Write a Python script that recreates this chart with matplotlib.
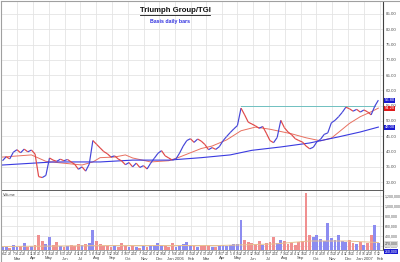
import numpy as np
import pandas as pd
import matplotlib
matplotlib.use("Agg")
import matplotlib.pyplot as plt
import matplotlib.dates as mdates
import matplotlib.transforms as mtrans
from matplotlib.collections import LineCollection
from matplotlib.lines import Line2D

plt.rcParams['font.family'] = ['Liberation Sans', 'DejaVu Sans']

# ---------------- data (weekly) ----------------
week_start = "2005-02-14"
n_weeks = 105
close = [37.0, 38.3, 37.6, 39.8, 40.6, 39.6, 40.8, 39.9, 40.5, 39.2,
         31.8, 31.5, 32.2, 37.9, 37.2, 36.8, 37.5, 37.0, 37.4, 36.6,
         35.8, 34.2, 35.0, 33.6, 35.9, 43.6, 42.4, 41.2, 40.0, 39.3,
         38.2, 38.6, 37.6, 36.9, 35.7, 36.4, 35.0, 36.2, 34.8, 35.4,
         34.3, 36.2, 37.8, 39.4, 40.3, 38.6, 37.9, 37.2, 37.6, 39.5,
         41.8, 43.6, 44.2, 43.0, 44.1, 43.4, 42.3, 40.6, 41.3, 40.7,
         41.6, 43.5, 44.9, 46.2, 47.4, 48.5, 54.2, 52.0, 49.6, 49.0,
         48.4, 47.6, 48.2, 46.0, 43.6, 42.9, 44.6, 50.2, 47.8, 46.4,
         45.5, 44.2, 43.6, 43.1, 41.8, 40.9, 41.4, 43.2, 44.0, 45.6,
         46.1, 49.4, 50.2, 51.4, 52.8, 54.5, 54.0, 53.2, 53.8, 52.9,
         53.6, 53.0, 52.0, 54.8, 56.8]
volume_k = [180, 200, 170, 230, 190, 210, 260, 180, 200, 220,
            420, 300, 250, 380, 230, 280, 200, 190, 210, 230,
            200, 250, 220, 240, 260, 520, 300, 240, 210, 200,
            180, 220, 190, 260, 200, 180, 210, 190, 170, 200,
            180, 210, 230, 260, 220, 200, 180, 260, 190, 210,
            240, 280, 230, 200, 190, 210, 230, 200, 180, 190,
            210, 220, 200, 230, 250, 240, 720, 320, 280, 260,
            240, 300, 220, 260, 280, 380, 260, 320, 300, 240,
            260, 230, 280, 300, 1260, 420, 380, 420, 340, 300,
            660, 360, 320, 420, 300, 280, 320, 260, 240, 280,
            220, 260, 420, 620, 260]

ma_fast_week = [0, 8, 12, 16, 22, 25, 27, 31, 34, 36, 41, 46, 49, 55, 58,
                62, 66, 70, 74, 80, 84, 88, 91, 93, 96, 99, 102, 104]
ma_fast_val = [38.2, 38.9, 36.8, 36.3, 35.6, 36.6, 38.0, 38.2, 38.9, 37.9,
               36.6, 37.0, 38.2, 41.0, 41.8, 43.8, 46.8, 48.0, 47.3, 45.8,
               44.5, 43.5, 44.4, 46.3, 49.2, 51.4, 53.0, 54.2]
ma_slow_week = [0, 14, 27, 36, 46, 55, 63, 69, 77, 85, 93, 99, 104]
ma_slow_val = [35.6, 36.6, 36.6, 37.2, 37.2, 38.0, 38.9, 40.4, 41.5, 42.8,
               44.8, 46.4, 48.0]
vol_ma_week = [0, 30, 60, 75, 85, 95, 104]
vol_ma_k = [190, 210, 210, 240, 300, 300, 270]

resistance = 55.0
resistance_from = "2006-05-22"
resistance_to = "2007-02-05"

price_ticks = [30, 35, 40, 45, 50, 55, 60, 65, 70, 75, 80, 85]
vol_ticks = [200000, 400000, 600000, 800000, 1000000, 1200000]

title = "Triumph Group/TGI"
subtitle = "Basis daily bars"

# ---------------- derived ----------------
dates = pd.date_range(week_start, periods=n_weeks, freq="7D")
x = mdates.date2num(dates)
close = np.array(close)
vol = np.array(volume_k) * 1000.0
up = np.r_[True, np.diff(close) >= 0]

C_UP = "#4545d8"
C_DN = "#e04848"
GRID = "#e4e4e4"

fig = plt.figure(figsize=(4.0, 2.62), dpi=100)
fig.patch.set_facecolor("white")

L, W = 2 / 400, 381 / 400
axp = fig.add_axes([L, (262 - 191) / 262, W, 189 / 262])
axv = fig.add_axes([L, (262 - 250) / 262, W, 59 / 262], sharex=axp)

xmin = mdates.date2num(pd.Timestamp("2005-02-13"))
xmax = mdates.date2num(pd.Timestamp("2007-02-21"))
axp.set_xlim(xmin, xmax)
axp.set_ylim(27.1, 88.9)
axv.set_ylim(120000, 1300000)

mid_months = pd.date_range("2005-03-01", "2007-02-01", freq="MS") + pd.Timedelta(days=14)
mm = mdates.date2num(mid_months)

for ax in (axp, axv):
    for v in mm:
        ax.axvline(v, color=GRID, lw=0.6, zorder=0)
for t in price_ticks:
    axp.axhline(t, color=GRID, lw=0.6, zorder=0)
for t in vol_ticks:
    axv.axhline(t, color=GRID, lw=0.6, zorder=0)

# price line coloured by direction
pts = np.column_stack([x, close])
segs = np.stack([pts[:-1], pts[1:]], axis=1)
seg_cols = [C_UP if c else C_DN for c in up[1:]]
axp.add_collection(LineCollection(segs, colors=seg_cols, linewidths=0.85, zorder=3))

# moving averages
axp.plot(x[ma_fast_week], ma_fast_val, color="#e87060", lw=0.7, zorder=2)
axp.plot(x[ma_slow_week], ma_slow_val, color="#3a3ae0", lw=0.8, zorder=2)
axp.plot(mdates.date2num(pd.to_datetime([resistance_from, resistance_to])),
         [resistance, resistance], color="#70c0c0", lw=0.7, zorder=2)

# volume
vcols = ["#8c8cf0" if c else "#f09090" for c in up]
axv.bar(x, vol, width=5.5, color=vcols, align="center", zorder=2, bottom=0)
axv.plot(x[vol_ma_week], np.array(vol_ma_k) * 1000.0, color="#e8c090", lw=0.7, zorder=3)

# axes styling
for ax in (axp, axv):
    ax.yaxis.tick_right()
    for s in ("top", "left"):
        ax.spines[s].set_visible(False)
    ax.spines["right"].set_color("#404040")
    ax.spines["right"].set_linewidth(0.8)
axp.tick_params(axis="y", length=0, pad=2, labelsize=3.2, labelcolor="#505050")
axv.tick_params(axis="y", length=0, pad=1.2, labelsize=2.5, labelcolor="#505050")
axp.spines["bottom"].set_color("#505050")
axp.spines["bottom"].set_linewidth(1.3)
axv.spines["bottom"].set_color("#909090")
axv.spines["bottom"].set_linewidth(0.6)

axp.set_yticks(price_ticks)
axp.set_yticklabels([f"{t:.2f}" for t in price_ticks])
axv.set_yticks(vol_ticks)
axv.set_yticklabels([f"{t:,.0f}" for t in vol_ticks])
axp.tick_params(axis="x", bottom=False, labelbottom=False)

axv.set_xticks(x)
axv.set_xticklabels([str(d.day) for d in dates])
axv.tick_params(axis="x", length=1.2, width=0.4, pad=0.3, labelsize=2.4,
                labelcolor="#404040", color="#808080")

tr = mtrans.blended_transform_factory(axv.transData, fig.transFigure)
for d, v in zip(mid_months, mm):
    lab = d.strftime("%b") + (d.strftime(" %Y") if d.month == 1 else "")
    fig.text(v, 1 - 258.5 / 262, lab, transform=tr, fontsize=3.0,
             color="#404040", ha="center", va="center")

# value boxes on right
trp = mtrans.blended_transform_factory(axp.transAxes, axp.transData)
for val, fc in ((close[-1], "#1a1ad0"), (ma_fast_val[-1], "#e01818"), (ma_slow_val[-1], "#1a1ad0")):
    axp.text(1.004, val, f"{val:.2f}", transform=trp, fontsize=3.0, color="white",
             ha="left", va="center", clip_on=False, zorder=5,
             bbox=dict(boxstyle="square,pad=0.12", fc=fc, ec="none"))
trv = mtrans.blended_transform_factory(axv.transAxes, axv.transData)
axv.text(1.004, vol_ma_k[-1] * 1000.0 - 30000, f"{vol_ma_k[-1] * 1000:,.0f}", transform=trv,
         fontsize=2.5, color="#505050", ha="left", va="center", clip_on=False, zorder=5,
         bbox=dict(boxstyle="square,pad=0.15", fc="#d8d8d8", ec="none"))
axv.text(1.004, -0.03, f"{vol[-1]:,.0f}", transform=axv.transAxes,
         fontsize=2.5, color="white", ha="left", va="center", clip_on=False, zorder=5,
         bbox=dict(boxstyle="square,pad=0.15", fc="#1a1ad0", ec="none"))

axv.text(0.003, 0.96, "Volume", transform=axv.transAxes, fontsize=2.8,
         color="#404040", ha="left", va="top")

# titles
t1 = fig.text(175 / 400, 1 - 10.5 / 262, title, fontsize=5.6, weight="bold",
              ha="center", va="center", color="#111111")
fig.text(170 / 400, 1 - 21 / 262, subtitle, fontsize=3.8, weight="bold",
         ha="center", va="center", color="#3030e0")
fig.canvas.draw()
bb = t1.get_window_extent()
fig.add_artist(Line2D([bb.x0 / 400, bb.x1 / 400], [(bb.y0 - 0.6) / 262] * 2,
                      transform=fig.transFigure, color="#111111", lw=0.6))

# frame
fig.add_artist(Line2D([1.2 / 400, 1.2 / 400], [0, 1 - 1 / 262], transform=fig.transFigure,
                      color="#a0a0a0", lw=0.8))
fig.add_artist(Line2D([1 / 400, 1], [1 - 1.2 / 262] * 2, transform=fig.transFigure,
                      color="#a0a0a0", lw=0.8))

fig.savefig("out.png", dpi=100)
